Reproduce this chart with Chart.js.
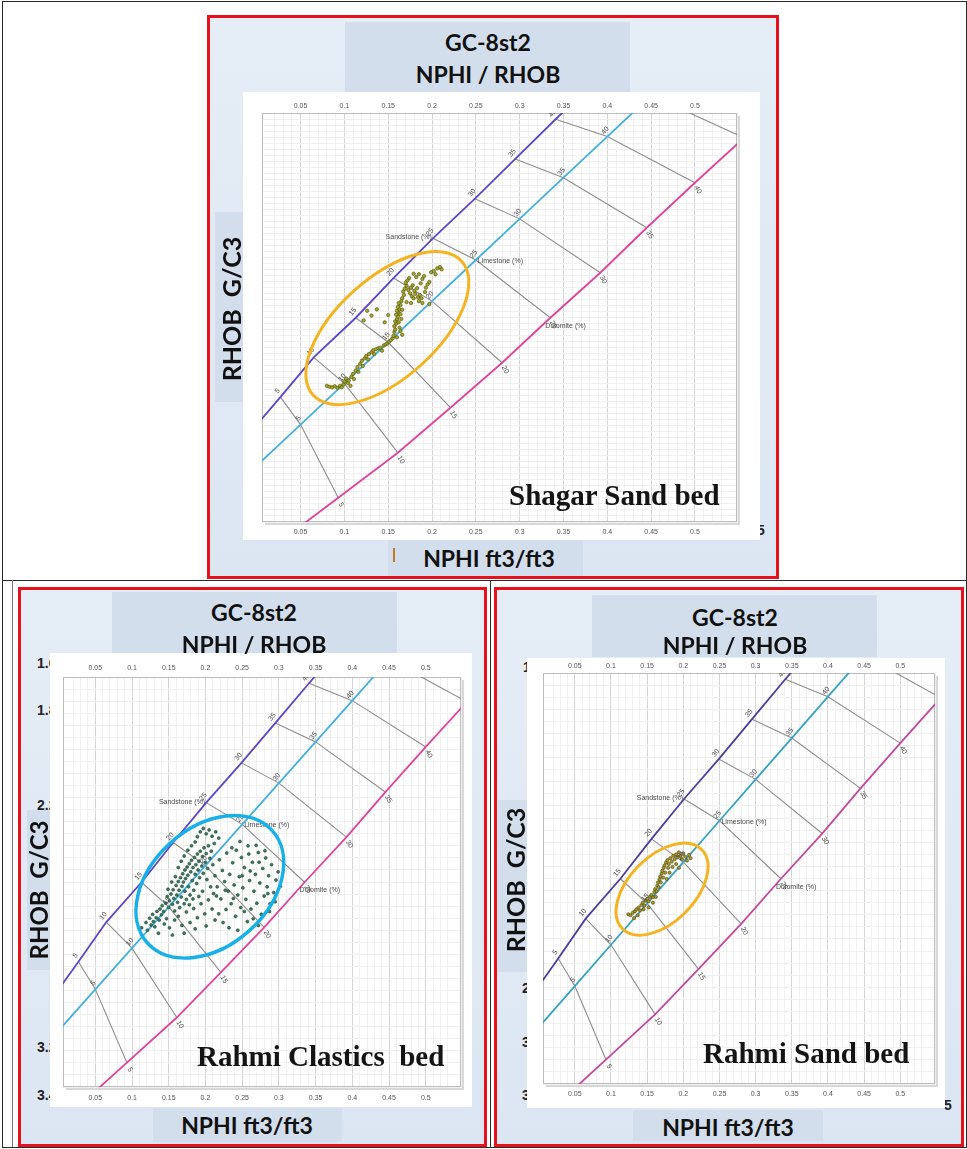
<!DOCTYPE html>
<html>
<head>
<meta charset="utf-8">
<script src="https://cdn.jsdelivr.net/npm/chart.js@4.4.1/dist/chart.umd.min.js"></script>
<style>
html,body{margin:0;padding:0;background:#fff;}
#fig{position:relative;width:967px;height:1149px;overflow:hidden;background:#fff;}
.abs{position:absolute;}
.line{position:absolute;background:#2a2a2a;}
.panel{position:absolute;border:3px solid #e8101a;box-sizing:border-box;background:linear-gradient(180deg,#e5edf6 0%,#dce6f2 100%);}
.box{position:absolute;background:#d3deec;}
.ttl{position:absolute;font-family:Lato,"Open Sans",sans-serif;font-weight:700;font-size:23px;line-height:24px;height:24px;color:#111;text-align:center;white-space:nowrap;z-index:5;}
.ylab{position:absolute;width:220px;height:26px;line-height:26px;font-family:Lato,"Open Sans",sans-serif;font-weight:700;font-size:25px;color:#111;text-align:center;white-space:pre;transform:rotate(-90deg);z-index:5;}
.cv{position:absolute;background:#fff;z-index:2;}
.bed{position:absolute;font-family:"Liberation Serif","Times New Roman",serif;font-weight:700;font-size:29px;line-height:29px;color:#141414;white-space:pre;z-index:5;}
.stray{position:absolute;font-family:"Liberation Sans",Arial,sans-serif;font-weight:700;font-size:14px;line-height:16px;color:#222;z-index:1;}
</style>
</head>
<body>
<div id="fig">
  <!-- outer table rules -->
  <div class="abs" style="left:2px;top:1px;width:963px;height:1145px;border:1px solid #2a2a2a;"></div>
  <div class="line" style="left:2px;top:580px;width:964px;height:1px;"></div>
  <div class="line" style="left:490px;top:580px;width:1px;height:567px;"></div>
  <div class="line" style="left:12px;top:580px;width:1px;height:567px;background:#777;"></div>

  <!-- top panel : Shagar Sand bed -->
  <div class="panel" style="left:207px;top:15px;width:572px;height:564px;"></div>
  <div class="box" style="left:345px;top:22px;width:285px;height:72px;"></div>
  <div class="box" style="left:215px;top:212px;width:29px;height:190px;"></div>
  <div class="box" style="left:388px;top:540px;width:195px;height:36px;"></div>
  <div class="ttl" style="left:338px;top:30px;width:300px;">GC-8st2</div>
  <div class="ttl" style="left:338px;top:62px;width:300px;">NPHI / RHOB</div>
  <div class="ylab" style="left:121px;top:296px;">RHOB  G/C3</div>
  <div class="ttl" style="left:339px;top:546px;width:300px;">NPHI ft3/ft3</div>
  <div class="abs" style="left:393px;top:548px;width:2px;height:14px;background:#c07a2a;z-index:5;"></div>
  <div class="stray" style="left:757px;top:522px;z-index:1;">5</div>
  <canvas id="cTop" class="cv" width="517" height="448" style="left:243px;top:92px;"></canvas>
  <div class="bed" style="left:509px;top:481px;">Shagar Sand bed</div>

  <!-- bottom-left panel : Rahmi Clastics bed -->
  <div class="panel" style="left:18px;top:587px;width:469px;height:560px;"></div>
  <div class="box" style="left:112px;top:592px;width:285px;height:63px;"></div>
  <div class="box" style="left:27px;top:810px;width:25px;height:160px;"></div>
  <div class="box" style="left:153px;top:1108px;width:189px;height:34px;"></div>
  <div class="ttl" style="left:104px;top:600px;width:300px;">GC-8st2</div>
  <div class="ttl" style="left:104px;top:632px;width:300px;">NPHI / RHOB</div>
  <div class="ylab" style="left:-71px;top:877px;font-size:24px;">RHOB  G/C3</div>
  <div class="ttl" style="left:97px;top:1113px;width:300px;">NPHI ft3/ft3</div>
  <div class="stray" style="left:37px;top:655px;">1.6</div>
  <div class="stray" style="left:37px;top:702px;">1.8</div>
  <div class="stray" style="left:37px;top:797px;">2.2</div>
  <div class="stray" style="left:37px;top:1039px;">3.2</div>
  <div class="stray" style="left:37px;top:1087px;">3.4</div>
  <canvas id="cLeft" class="cv" width="422" height="454" style="left:50px;top:653px;"></canvas>
  <div class="bed" style="left:197px;top:1042px;">Rahmi Clastics  bed</div>

  <!-- bottom-right panel : Rahmi Sand bed -->
  <div class="panel" style="left:494px;top:587px;width:470px;height:560px;"></div>
  <div class="box" style="left:592px;top:595px;width:285px;height:62px;"></div>
  <div class="box" style="left:498px;top:800px;width:30px;height:172px;"></div>
  <div class="box" style="left:633px;top:1110px;width:190px;height:31px;"></div>
  <div class="ttl" style="left:585px;top:605px;width:300px;">GC-8st2</div>
  <div class="ttl" style="left:585px;top:633px;width:300px;">NPHI / RHOB</div>
  <div class="ylab" style="left:405px;top:867px;">RHOB  G/C3</div>
  <div class="ttl" style="left:578px;top:1115px;width:300px;">NPHI ft3/ft3</div>
  <div class="stray" style="left:523px;top:659px;">1</div>
  <div class="stray" style="left:522px;top:980px;">2</div>
  <div class="stray" style="left:522px;top:1034px;">3</div>
  <div class="stray" style="left:522px;top:1087px;">3</div>
  <div class="stray" style="left:944px;top:1097px;">5</div>
  <canvas id="cRight" class="cv" width="418" height="450" style="left:527px;top:658px;"></canvas>
  <div class="bed" style="left:703px;top:1039px;">Rahmi Sand bed</div>
</div>

<script>
// ---- axis ranges and tick labels ----
const X_MIN = 0.006, X_MAX = 0.548;
const Y_MIN = 1.977, Y_MAX = 2.827;
const nphiTickLabels = ['0.05','0.1','0.15','0.2','0.25','0.3','0.35','0.4','0.45','0.5'];
const rhobTickLabelsFine = ['2','2.05','2.1','2.15','2.2','2.25','2.3','2.35','2.4','2.45','2.5','2.55','2.6','2.65','2.7','2.75','2.8'];
const rhobTickLabelsCoarse = ['2','2.1','2.2','2.3','2.4','2.5','2.6','2.7','2.8'];

// ---- lithology lines (porosity in %, NPHI in v/v, RHOB in g/cc) ----
const porosityPct   = [0, 5, 10, 15, 20, 25, 30, 35, 40, 45];
const sandstoneNphi = [-0.012, 0.027, 0.065, 0.113, 0.156, 0.201, 0.249, 0.295, 0.341, 0.388];
const sandstoneRhob = [2.650, 2.5675, 2.485, 2.4025, 2.320, 2.2375, 2.155, 2.0725, 1.990, 1.9075];
const limestoneNphi = [0.000, 0.050, 0.100, 0.150, 0.200, 0.250, 0.300, 0.350, 0.400, 0.450];
const limestoneRhob = [2.710, 2.6245, 2.539, 2.4535, 2.368, 2.2825, 2.197, 2.1115, 2.026, 1.9405];
const dolomiteNphi  = [0.025, 0.093, 0.161, 0.221, 0.280, 0.335, 0.392, 0.445, 0.500, 0.556];
const dolomiteRhob  = [2.870, 2.7765, 2.683, 2.5895, 2.496, 2.4025, 2.309, 2.2155, 2.122, 2.0285];

// ---- Shagar Sand bed samples ----
const shagarNphi = [0.080,0.083,0.086,0.089,0.092,0.095,0.097,0.099,0.100,0.102,0.104,0.105,0.107,0.108,0.110,0.111,0.113,0.115,0.116,0.118,0.120,0.121,0.123,0.125,0.127,0.128,0.131,0.133,0.134,0.136,0.139,0.141,0.143,0.145,0.147,0.149,0.151,0.153,0.155,0.156,
  0.157,0.158,0.157,0.159,0.158,0.160,0.161,0.159,0.162,0.160,0.163,0.161,0.164,0.162,0.165,0.163,0.164,0.166,0.160,0.162,0.165,0.164,0.166,
  0.166,0.168,0.167,0.169,0.171,0.170,0.172,0.174,0.173,0.175,0.176,0.178,0.177,0.179,0.180,0.181,0.183,0.184,0.185,0.186,0.188,0.189,0.187,0.182,0.185,0.189,0.191,0.193,0.195,0.197,0.199,0.202,0.204,0.206,0.209,0.211,0.192,0.179,0.176,0.171,
  0.126,0.137,0.122,0.131,0.150,0.146,0.197];
const shagarRhob = [2.544,2.546,2.547,2.545,2.548,2.544,2.547,2.541,2.535,2.529,2.538,2.533,2.544,2.525,2.519,2.530,2.512,2.505,2.515,2.498,2.492,2.503,2.487,2.482,2.489,2.478,2.474,2.470,2.478,2.468,2.466,2.465,2.471,2.460,2.458,2.456,2.452,2.449,2.445,2.440,
  2.432,2.427,2.420,2.415,2.410,2.405,2.400,2.396,2.392,2.388,2.385,2.380,2.376,2.372,2.368,2.423,2.430,2.438,2.443,2.412,2.405,2.395,2.386,
  2.362,2.355,2.348,2.342,2.336,2.330,2.325,2.320,2.345,2.352,2.340,2.335,2.358,2.362,2.347,2.353,2.341,2.360,2.368,2.355,2.362,2.372,2.331,2.318,2.312,2.322,2.316,2.340,2.333,2.328,2.308,2.305,2.312,2.300,2.297,2.302,2.349,2.311,2.372,2.370,
  2.388,2.385,2.408,2.398,2.397,2.412,2.374];

// ---- Rahmi Clastics bed samples ----
const clasticsNphi = [
  0.113,0.119,0.121,0.124,0.126,0.128,0.129,0.133,0.134,0.131,0.137,0.138,0.140,0.136,0.144,0.141,0.147,0.143,0.151,0.155,
  0.146,0.148,0.150,0.151,0.153,0.155,0.156,0.157,0.158,0.160,0.161,0.162,0.163,0.164,0.165,0.166,0.167,0.168,0.169,0.170,0.171,0.172,0.172,0.173,0.174,0.175,0.176,0.177,0.178,0.179,0.180,0.181,0.182,0.183,0.184,0.185,0.186,0.187,0.188,0.189,0.190,0.191,0.192,0.193,0.195,0.196,0.197,0.198,0.200,0.201,0.203,0.204,0.206,0.208,0.210,0.212,0.159,0.163,0.167,0.171,0.154,0.149,0.176,0.181,
  0.189,0.193,0.197,0.201,0.205,0.186,0.209,0.214,0.218,
  0.213,0.216,0.219,0.221,0.223,0.226,0.228,0.229,0.231,0.233,0.235,0.237,0.239,0.241,0.242,0.244,0.246,0.248,0.249,0.251,0.253,0.255,0.257,0.258,0.260,0.262,0.264,0.266,0.268,0.270,0.272,0.274,0.276,0.278,0.280,0.282,0.284,0.286,0.288,0.290,0.293,0.296,0.299,0.302,0.218,0.224,0.232,0.244,0.253,0.265,0.272,0.287,0.295,0.236,0.247,0.259,0.269,0.281,0.215,0.227,0.238,0.250,0.261,0.273,0.285,
  0.158,0.163,0.168,0.174,0.179,0.184,0.189,0.194,0.199,0.204,0.209,0.213,0.171,0.186,0.201,0.196,0.207,0.191,0.202,0.211,0.178,0.183];
const clasticsRhob = [
  2.497,2.486,2.502,2.477,2.491,2.469,2.484,2.476,2.463,2.495,2.481,2.458,2.470,2.508,2.489,2.451,2.478,2.463,2.497,2.512,
  2.446,2.432,2.455,2.441,2.427,2.448,2.418,2.436,2.462,2.409,2.429,2.444,2.401,2.419,2.455,2.393,2.433,2.411,2.385,2.402,2.447,2.377,2.421,2.395,2.438,2.371,2.388,2.412,2.364,2.429,2.381,2.357,2.399,2.372,2.419,2.351,2.386,2.366,2.405,2.344,2.377,2.359,2.393,2.338,2.369,2.349,2.384,2.331,2.361,2.343,2.374,2.327,2.353,2.338,2.366,2.322,2.391,2.372,2.359,2.348,2.402,2.417,2.336,2.327,
  2.308,2.298,2.291,2.302,2.294,2.319,2.307,2.298,2.311,
  2.389,2.412,2.356,2.437,2.378,2.401,2.459,2.342,2.421,2.386,2.447,2.362,2.408,2.473,2.336,2.429,2.391,2.455,2.351,2.414,2.372,2.438,2.484,2.327,2.399,2.458,2.361,2.421,2.386,2.446,2.341,2.404,2.469,2.374,2.431,2.352,2.412,2.389,2.447,2.366,2.424,2.398,2.381,2.411,2.468,2.486,2.497,2.502,2.463,2.478,2.492,2.463,2.443,2.331,2.318,2.344,2.326,2.337,2.431,2.419,2.436,2.389,2.379,2.361,2.426,
  2.481,2.473,2.492,2.464,2.486,2.457,2.476,2.447,2.468,2.439,2.458,2.481,2.508,2.499,2.493,2.421,2.412,2.432,2.397,2.426,2.449,2.437];

// ---- Rahmi Sand bed samples ----
const rahmiSandNphi = [0.124,0.127,0.130,0.133,0.135,0.138,0.140,0.142,0.144,0.146,0.148,0.150,0.152,0.154,0.156,0.158,0.160,0.161,0.163,0.164,0.165,0.166,0.167,0.168,0.169,0.170,0.171,0.172,0.173,0.174,0.175,0.176,0.178,0.179,0.180,0.182,0.184,0.186,0.188,0.190,0.192,0.194,0.196,0.198,0.200,0.203,0.205,0.208,0.210,0.185,0.181,0.177,0.162,0.158,0.152,0.145,0.137,0.132,0.190,0.194];
const rahmiSandRhob = [2.476,2.478,2.473,2.470,2.466,2.462,2.468,2.457,2.452,2.458,2.447,2.444,2.449,2.440,2.436,2.441,2.430,2.424,2.428,2.417,2.410,2.420,2.404,2.398,2.410,2.392,2.386,2.400,2.380,2.375,2.390,2.369,2.364,2.380,2.372,2.360,2.367,2.355,2.362,2.352,2.358,2.348,2.355,2.362,2.350,2.357,2.365,2.353,2.360,2.378,2.390,2.403,2.440,2.452,2.462,2.466,2.478,2.484,2.372,2.380];

// ---- helpers ----
const TICK_FONT = {family:'"Liberation Sans", Arial, sans-serif', size:7};
const fmt = v => String(+Number(v).toFixed(3));
const pts = (xs, ys) => xs.map((v, i) => ({x: v, y: ys[i]}));

// porosity labels, lithology names, annotation ellipse and plot frame
const lithoPlugin = {
  id: 'litho',
  beforeDatasetsDraw(chart) {
    const {ctx, chartArea: a} = chart;
    ctx.save();
    ctx.strokeStyle = '#d8d8d8'; ctx.lineWidth = 2;
    ctx.beginPath();
    ctx.moveTo(a.right + 2, a.top + 3); ctx.lineTo(a.right + 2, a.bottom + 2); ctx.lineTo(a.left + 3, a.bottom + 2);
    ctx.stroke();
    ctx.strokeStyle = '#bcbcbc'; ctx.lineWidth = 1;
    ctx.strokeRect(a.left + 0.5, a.top + 0.5, a.right - a.left - 1, a.bottom - a.top - 1);
    ctx.restore();
  },
  afterDatasetsDraw(chart, args, opts) {
    const {ctx, chartArea: a, scales: {x, y}} = chart;
    ctx.save();
    ctx.beginPath(); ctx.rect(a.left, a.top, a.right - a.left, a.bottom - a.top); ctx.clip();
    ctx.fillStyle = '#4a4a4a';
    ctx.font = '7px "Liberation Sans", Arial, sans-serif';
    ctx.textAlign = 'center'; ctx.textBaseline = 'middle';
    const put = (t, px, py, deg) => {
      ctx.save(); ctx.translate(px, py); ctx.rotate(deg * Math.PI / 180); ctx.fillText(t, 0, 0); ctx.restore();
    };
    for (let i = 1; i < porosityPct.length; i++) {
      const t = String(porosityPct[i]);
      put(t, x.getPixelForValue(sandstoneNphi[i]) - 3, y.getPixelForValue(sandstoneRhob[i]) - 6, -50);
      put(t, x.getPixelForValue(limestoneNphi[i]) - 2, y.getPixelForValue(limestoneRhob[i]) - 6, -50);
      put(t, x.getPixelForValue(dolomiteNphi[i]) + 3, y.getPixelForValue(dolomiteRhob[i]) + 7, 60);
    }
    const k = porosityPct.indexOf(25);
    ctx.textBaseline = 'middle';
    ctx.textAlign = 'right';
    ctx.fillText('Sandstone (%)', x.getPixelForValue(sandstoneNphi[k]) - 1, y.getPixelForValue(sandstoneRhob[k]) - 1);
    ctx.textAlign = 'left';
    ctx.fillText('Limestone (%)', x.getPixelForValue(limestoneNphi[k]) + 2, y.getPixelForValue(limestoneRhob[k]) + 1);
    ctx.fillText('Dolomite (%)', x.getPixelForValue(dolomiteNphi[k]) - 5, y.getPixelForValue(dolomiteRhob[k]) + 8);
    ctx.restore();

    const e = opts.ellipse;
    if (e) {
      ctx.save();
      ctx.strokeStyle = e.color; ctx.lineWidth = e.width;
      ctx.beginPath();
      ctx.ellipse(x.getPixelForValue(e.nphi), y.getPixelForValue(e.rhob), e.rx, e.ry, -e.angle * Math.PI / 180, 0, Math.PI * 2);
      ctx.stroke();
      ctx.restore();
    }
  }
};

function buildChart(id, spec) {
  const xLab = v => nphiTickLabels.includes(fmt(v)) ? fmt(v) : '';
  const yLab = v => spec.rhobLabels.includes(fmt(v)) ? fmt(v) : '';
  const gx = c => (c.tick && nphiTickLabels.includes(fmt(c.tick.value))) ? '#d4d4d4' : '#f0f0f0';
  const gy = c => (c.tick && spec.rhobLabels.includes(fmt(c.tick.value))) ? '#d4d4d4' : '#f0f0f0';
  const tick = (step, pad, cb) => ({stepSize: step, autoSkip: false, maxRotation: 0, minRotation: 0, padding: pad, font: TICK_FONT, color: '#555', callback: cb});

  const datasets = [];
  for (let i = 1; i < porosityPct.length; i++) {
    datasets.push({
      data: [{x: sandstoneNphi[i], y: sandstoneRhob[i]}, {x: limestoneNphi[i], y: limestoneRhob[i]}, {x: dolomiteNphi[i], y: dolomiteRhob[i]}],
      showLine: true, borderColor: '#8d8d8d', borderWidth: 1.1, pointRadius: 0, order: 3
    });
  }
  datasets.push({data: pts(sandstoneNphi, sandstoneRhob), showLine: true, borderColor: spec.colors[0], borderWidth: 1.8, pointRadius: 0, order: 2});
  datasets.push({data: pts(limestoneNphi, limestoneRhob), showLine: true, borderColor: spec.colors[1], borderWidth: 1.8, pointRadius: 0, order: 2});
  datasets.push({data: pts(dolomiteNphi, dolomiteRhob), showLine: true, borderColor: spec.colors[2], borderWidth: 1.8, pointRadius: 0, order: 2});
  datasets.push({data: pts(spec.nphi, spec.rhob), showLine: false, pointRadius: spec.dotR, pointBorderWidth: 0.6,
    backgroundColor: spec.dot[0], borderColor: spec.dot[1], order: 1});

  return new Chart(document.getElementById(id), {
    type: 'scatter',
    data: {datasets},
    plugins: [lithoPlugin],
    options: {
      responsive: false, animation: false, events: [],
      layout: {padding: 0},
      plugins: {legend: {display: false}, tooltip: {enabled: false}, litho: {ellipse: spec.ellipse}},
      scales: {
        x: {type: 'linear', position: 'bottom', min: X_MIN, max: X_MAX, afterFit: s => { s.height = spec.ax[3]; },
            ticks: tick(0.01, spec.pad[3], xLab), grid: {color: gx, lineWidth: 1, drawTicks: false}, border: {display: false}},
        x2: {type: 'linear', position: 'top', min: X_MIN, max: X_MAX, afterFit: s => { s.height = spec.ax[1]; },
            ticks: tick(0.01, spec.pad[1], xLab), grid: {display: false, drawTicks: false}, border: {display: false}},
        y: {type: 'linear', position: 'left', reverse: true, min: Y_MIN, max: Y_MAX, afterFit: s => { s.width = spec.ax[0]; },
            ticks: tick(spec.yStep, spec.pad[0], yLab), grid: {color: gy, lineWidth: 1, drawTicks: false}, border: {display: false}},
        y2: {type: 'linear', position: 'right', reverse: true, min: Y_MIN, max: Y_MAX, afterFit: s => { s.width = spec.ax[2]; },
            ticks: tick(spec.yStep, spec.pad[2], yLab), grid: {display: false, drawTicks: false}, border: {display: false}}
      }
    }
  });
}

buildChart('cTop', {
  nphi: shagarNphi, rhob: shagarRhob, rhobLabels: rhobTickLabelsFine, yStep: 0.0125, dotR: 1.7,
  ax: [19, 21, 23, 18], pad: [4, 3, 2, 6],
  colors: ['#5a46c8', '#43b0e2', '#e0439b'], dot: ['#a8a824', '#4a4a08'],
  ellipse: {nphi: 0.149, rhob: 2.424, rx: 100, ry: 50, angle: 42, color: '#f6b321', width: 3}
});
buildChart('cLeft', {
  nphi: clasticsNphi, rhob: clasticsRhob, rhobLabels: rhobTickLabelsCoarse, yStep: 0.025, dotR: 1.5,
  ax: [13, 24, 11, 20], pad: [3, 5, 2, 7],
  colors: ['#5a46c8', '#43b0e2', '#e0439b'], dot: ['#3d7a5c', '#1d4a34'],
  ellipse: {nphi: 0.206, rhob: 2.412, rx: 84, ry: 59, angle: 42, color: '#18b0e8', width: 3.5}
});
buildChart('cRight', {
  nphi: rahmiSandNphi, rhob: rahmiSandRhob, rhobLabels: rhobTickLabelsCoarse, yStep: 0.025, dotR: 1.6,
  ax: [16, 15, 10, 24], pad: [3, 3, 2, 6],
  colors: ['#4d3d9e', '#36a3c2', '#c4489c'], dot: ['#a89a2c', '#4d4208'],
  ellipse: {nphi: 0.1706, rhob: 2.424, rx: 56, ry: 33, angle: 45, color: '#f6b321', width: 3}
});
</script>
</body>
</html>
